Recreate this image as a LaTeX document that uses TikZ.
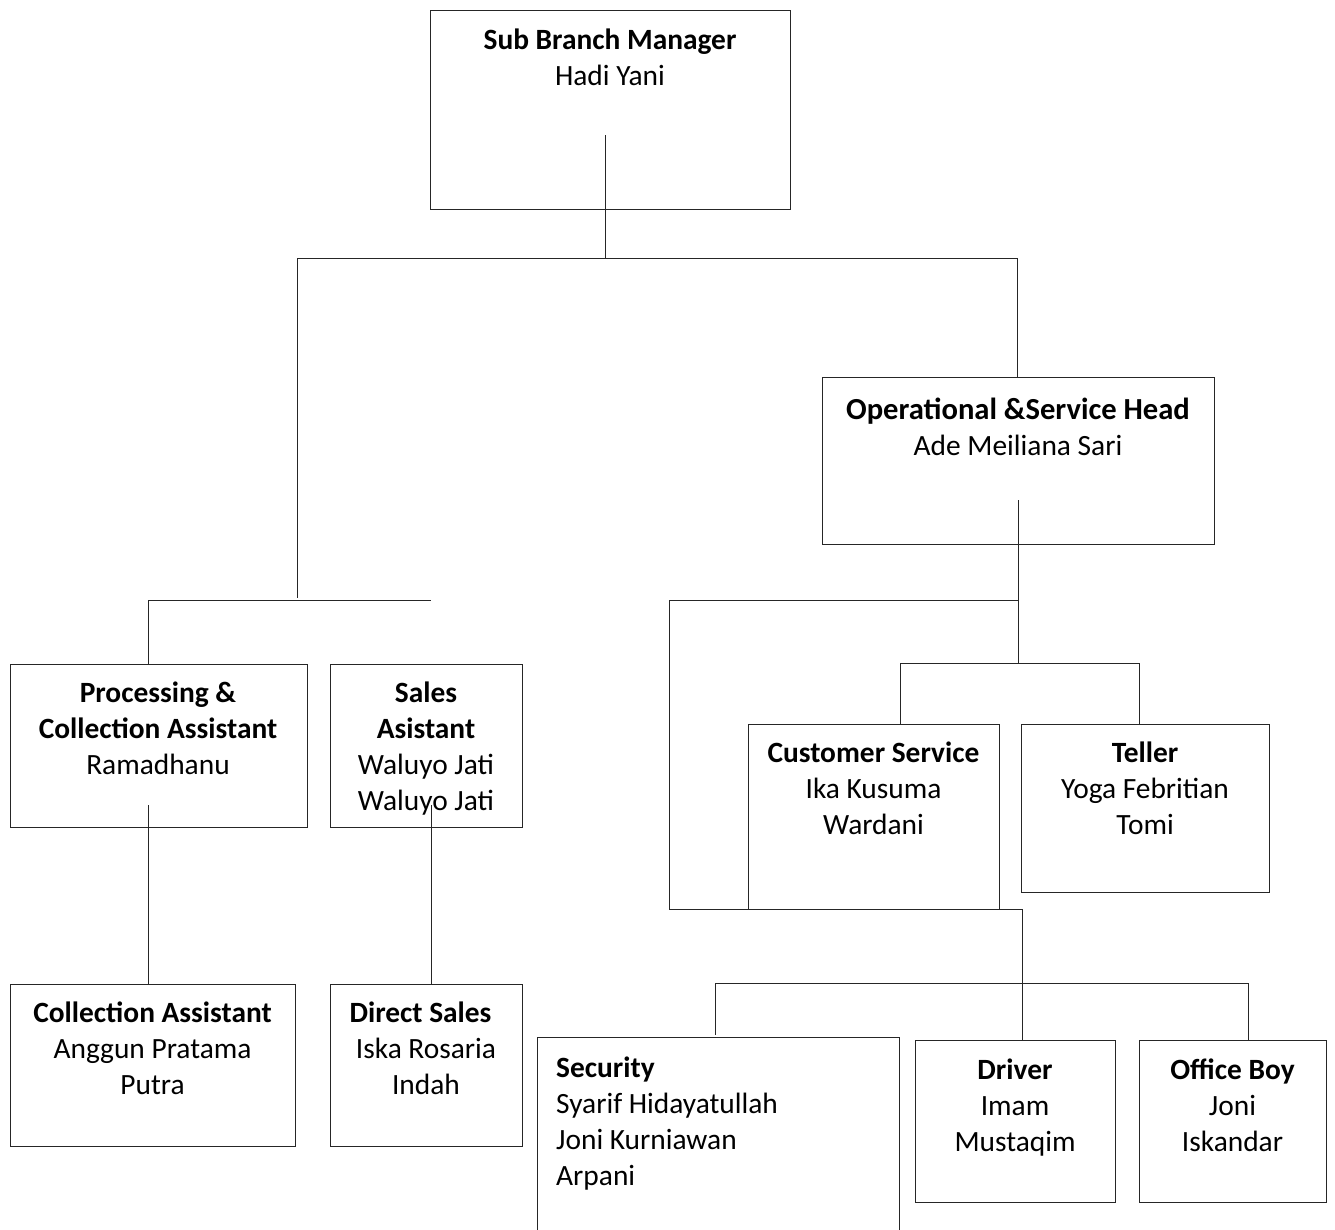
\documentclass[tikz,border=0pt]{standalone}
\usepackage{fontspec}
\setmainfont{Carlito}
\begin{document}
\begin{tikzpicture}[x=1pt,y=-1pt,
  box/.style={draw=black!85, line width=1.1pt, rectangle, inner sep=0pt, anchor=north west},
  conn/.style={draw=black!85, line width=1pt},
  lbl/.style={inner sep=0pt, anchor=north, align=center, font=\fontsize{29.4}{36}\selectfont},
  lbll/.style={inner sep=0pt, anchor=north west, align=left, font=\fontsize{29.4}{36}\selectfont}]
\useasboundingbox (0,0) rectangle (1335,1229);
\clip (0,0) rectangle (1335,1229);
% boxes
\node[box, minimum width=360pt, minimum height=199pt] (sbm) at (430,10) {};
\node[box, minimum width=392pt, minimum height=167pt] (ops) at (822,377) {};
\node[box, minimum width=297pt, minimum height=163pt] (pca) at (10,664) {};
\node[box, minimum width=192pt, minimum height=163pt] (sales) at (330,664) {};
\node[box, minimum width=251pt, minimum height=185pt] (cs) at (748,724) {};
\node[box, minimum width=248pt, minimum height=168pt] (teller) at (1021,724) {};
\node[box, minimum width=285pt, minimum height=162pt] (ca) at (10,984) {};
\node[box, minimum width=192pt, minimum height=162pt] (ds) at (330,984) {};
\node[box, minimum width=362pt, minimum height=210pt] (sec) at (537,1037) {};
\node[box, minimum width=200pt, minimum height=162pt] (drv) at (915,1040) {};
\node[box, minimum width=187pt, minimum height=162pt] (ob) at (1139,1040) {};
% labels (top of node = first baseline - 25.2)
\node[lbl] (sbm-t) at (610,24.3) {\strut\textbf{Sub Branch Manager}\\Hadi Yani};
\node[lbl] (ops-t) at (1018,394.3) {\strut{\fontsize{30.6}{36}\selectfont\textbf{Operational \&Service Head}}\\Ade Meiliana Sari};
\node[lbl] (pca-t) at (158,677.3) {\strut\textbf{Processing \&}\\\textbf{Collection Assistant}\\Ramadhanu};
\node[lbl] (sales-t) at (426,677.3) {\strut\textbf{Sales}\\\textbf{Asistant}\\Waluyo Jati\\Waluyo Jati};
\node[lbl] (cs-t) at (873.5,737.3) {\strut\textbf{Customer Service}\\Ika Kusuma\\Wardani};
\node[lbl] (teller-t) at (1145,737.3) {\strut\textbf{Teller}\\Yoga Febritian\\Tomi};
\node[lbl] (ca-t) at (152.5,997.3) {\strut\textbf{Collection Assistant}\\Anggun Pratama\\Putra};
\node[lbl] (ds-t) at (426,997.3) {\strut\textbf{Direct Sales}\kern11pt\\Iska Rosaria\\Indah};
\node[lbll] (sec-t) at (556,1052.3) {\strut\textbf{Security}\\Syarif Hidayatullah\\Joni Kurniawan\\Arpani};
\node[lbl] (drv-t) at (1015,1054.3) {\strut\textbf{Driver}\\Imam\\Mustaqim};
\node[lbl] (ob-t) at (1232.5,1054.3) {\strut\textbf{Office Boy}\\Joni\\Iskandar};
% junction coordinates
\coordinate (a0) at (605,135);
\coordinate (a1) at (605,258);
\coordinate (a2) at (297,258);
\coordinate (a3) at (1017,258);
\coordinate (a4) at (297,598);
\coordinate (b1) at (148,600);
\coordinate (b2) at (431,600);
\coordinate (b3) at (148,805);
\coordinate (b4) at (431,805);
\coordinate (c0) at (1018,500);
\coordinate (c1) at (1018,600);
\coordinate (c2) at (669,600);
\coordinate (c3) at (669,909);
\coordinate (c4) at (1022,909);
\coordinate (c5) at (1018,663);
\coordinate (d1) at (900,663);
\coordinate (d2) at (1139,663);
\coordinate (e1) at (715,983);
\coordinate (e2) at (1248,983);
\coordinate (e3) at (715,1035);
% connectors
\draw[conn] (a0) -- (a1);
\draw[conn] (a2) -- (a3);
\draw[conn] (a2) -- (a4);
\draw[conn] (a3) -- (a3 |- ops.north);
\draw[conn] (b1) -- (b2);
\draw[conn] (b1) -- (b1 |- pca.north);
\draw[conn] (b3) -- (b3 |- ca.north);
\draw[conn] (b4) -- (b4 |- ds.north);
\draw[conn] (c0) -- (c5);
\draw[conn] (c1) -- (c2) -- (c3) -- (c4) -- (c4 |- drv.north);
\draw[conn] (d1) -- (d2);
\draw[conn] (d1) -- (d1 |- cs.north);
\draw[conn] (d2) -- (d2 |- teller.north);
\draw[conn] (e1) -- (e2);
\draw[conn] (e1) -- (e3);
\draw[conn] (e2) -- (e2 |- ob.north);
\end{tikzpicture}
\end{document}
